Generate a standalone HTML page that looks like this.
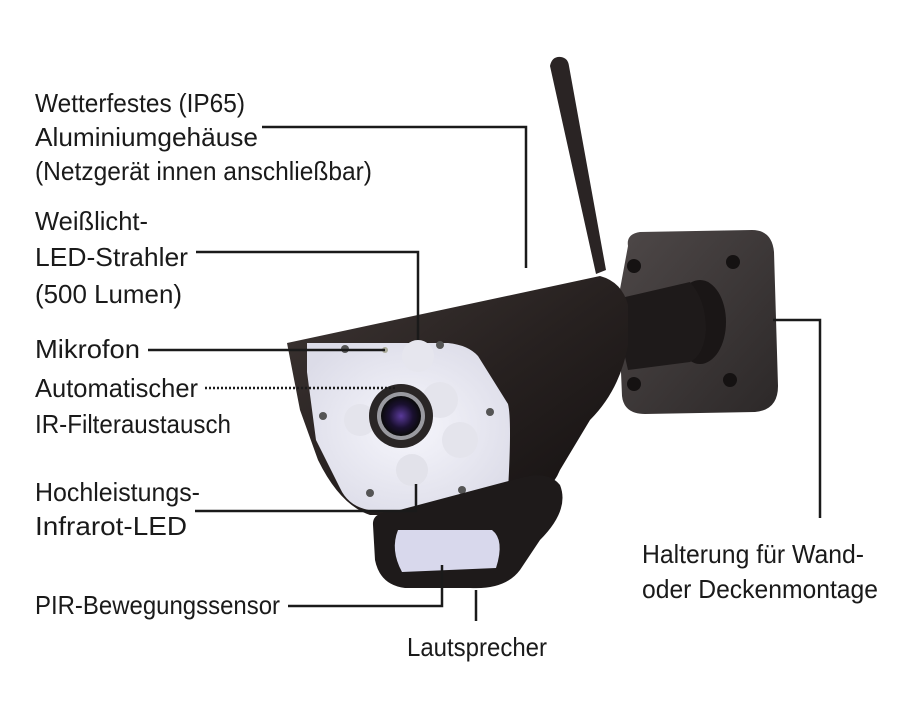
<!DOCTYPE html>
<html><head><meta charset="utf-8"><style>
html,body{margin:0;padding:0;background:#fff;}
svg{display:block;}
text{font-family:"Liberation Sans Narrow","Liberation Sans",sans-serif;font-size:26px;fill:#1a1a1a;}
</style></head><body>
<svg width="900" height="720" viewBox="0 0 900 720" xmlns="http://www.w3.org/2000/svg">
<defs>
<linearGradient id="body" x1="0" y1="0" x2="1" y2="1">
<stop offset="0" stop-color="#3e3634"/><stop offset="0.5" stop-color="#272120"/><stop offset="1" stop-color="#141010"/>
</linearGradient>
<linearGradient id="plate" x1="0" y1="0" x2="1" y2="1">
<stop offset="0" stop-color="#4e4848"/><stop offset="1" stop-color="#2c2828"/>
</linearGradient>
<radialGradient id="face" cx="0.5" cy="0.5" r="0.6">
<stop offset="0" stop-color="#f6f6fc"/><stop offset="1" stop-color="#dcdce8"/>
</radialGradient>
<radialGradient id="lens" cx="0.5" cy="0.5" r="0.5">
<stop offset="0" stop-color="#5a3a9a"/><stop offset="0.6" stop-color="#1a1030"/><stop offset="1" stop-color="#0a0a0a"/>
</radialGradient>
</defs>
<!-- antenna -->
<path d="M550,66 Q552,56 561,57 Q568,58 569,66 L606,270 L596,274 Z" fill="#2a2424"/>
<!-- bracket plate -->
<path d="M628,246 Q626,234 640,232 L752,230 Q772,230 774,252 L778,386 Q778,410 755,412 L645,414 Q624,414 622,396 L618,300 Z" fill="url(#plate)"/>
<circle cx="634" cy="266" r="7" fill="#151212"/><circle cx="733" cy="262" r="7" fill="#151212"/>
<circle cx="634" cy="384" r="7" fill="#151212"/><circle cx="730" cy="380" r="7" fill="#151212"/>
<ellipse cx="700" cy="322" rx="26" ry="42" fill="#1a1616"/>
<path d="M612,300 L690,282 Q706,300 706,330 Q704,355 690,362 L628,370 Z" fill="#1e1a1a"/>
<!-- body -->
<path d="M287,343 L600,276 Q622,282 628,305 L628,345 Q620,390 590,420 L560,470 Q548,500 500,515 L370,515 Q340,505 318,460 L300,410 Z" fill="url(#body)"/>
<!-- front face -->
<path d="M307,343 L448,343 Q468,345 478,356 L508,404 Q512,420 508,490 Q504,506 482,508 L378,511 Q350,510 340,488 L316,440 L307,372 Z" fill="url(#face)"/>
<circle cx="418" cy="356" r="16" fill="#e6e6ee"/><circle cx="440" cy="400" r="18" fill="#e4e4ec"/>
<circle cx="360" cy="420" r="16" fill="#e4e4ec"/><circle cx="412" cy="470" r="16" fill="#e2e2ea"/>
<circle cx="460" cy="440" r="18" fill="#e4e4ec"/>
<circle cx="345" cy="349" r="4" fill="#555"/><circle cx="385" cy="350" r="3" fill="#aa9"/><circle cx="440" cy="345" r="4" fill="#555"/>
<circle cx="323" cy="416" r="4" fill="#555"/><circle cx="490" cy="412" r="4" fill="#555"/>
<circle cx="370" cy="493" r="4" fill="#555"/><circle cx="462" cy="490" r="4" fill="#555"/>
<circle cx="401" cy="416" r="32" fill="#2a2626"/>
<circle cx="401" cy="416" r="24" fill="#9a9aa0"/>
<circle cx="401" cy="416" r="20" fill="url(#lens)"/>
<!-- PIR housing -->
<path d="M373,525 Q372,512 392,512 L520,478 Q548,470 560,485 Q570,510 540,540 L520,570 Q505,590 470,588 L405,588 Q380,585 375,560 Z" fill="#1e1a1a"/>
<path d="M398,530 L492,530 Q505,540 496,568 L402,572 Q390,550 398,530 Z" fill="#d8d8ec"/>
<!-- connectors -->
<g stroke="#1a1a1a" stroke-width="2.5" fill="none">
<polyline points="262,127 526,127 526,268"/>
<polyline points="196,252 418,252 418,340"/>
<line x1="148" y1="350" x2="385" y2="350"/>
<polyline points="195,511 416,511 416,484"/>
<polyline points="288,606 442,606 442,565"/>
<line x1="476" y1="590" x2="476" y2="621"/>
<polyline points="773,320 820,320 820,518"/>
</g>
<line x1="205" y1="388" x2="395" y2="388" stroke="#1a1a1a" stroke-width="2.5" stroke-dasharray="2,2"/>
<!-- labels -->
<text x="35" y="112" textLength="210" lengthAdjust="spacingAndGlyphs">Wetterfestes (IP65)</text>
<text x="35" y="146" textLength="223" lengthAdjust="spacingAndGlyphs">Aluminiumgehäuse</text>
<text x="35" y="180" textLength="337" lengthAdjust="spacingAndGlyphs">(Netzgerät innen anschließbar)</text>
<text x="35" y="230" textLength="113" lengthAdjust="spacingAndGlyphs">Weißlicht-</text>
<text x="35" y="266" textLength="153" lengthAdjust="spacingAndGlyphs">LED-Strahler</text>
<text x="35" y="303" textLength="147" lengthAdjust="spacingAndGlyphs">(500 Lumen)</text>
<text x="35" y="358" textLength="105" lengthAdjust="spacingAndGlyphs">Mikrofon</text>
<text x="35" y="397" textLength="163" lengthAdjust="spacingAndGlyphs">Automatischer</text>
<text x="35" y="433" textLength="196" lengthAdjust="spacingAndGlyphs">IR-Filteraustausch</text>
<text x="35" y="501" textLength="165" lengthAdjust="spacingAndGlyphs">Hochleistungs-</text>
<text x="35" y="535" textLength="152" lengthAdjust="spacingAndGlyphs">Infrarot-LED</text>
<text x="35" y="614" textLength="245" lengthAdjust="spacingAndGlyphs">PIR-Bewegungssensor</text>
<text x="407" y="656" textLength="140" lengthAdjust="spacingAndGlyphs">Lautsprecher</text>
<text x="642" y="563" textLength="222" lengthAdjust="spacingAndGlyphs">Halterung für Wand-</text>
<text x="642" y="598" textLength="236" lengthAdjust="spacingAndGlyphs">oder Deckenmontage</text>
</svg>
</body></html>
